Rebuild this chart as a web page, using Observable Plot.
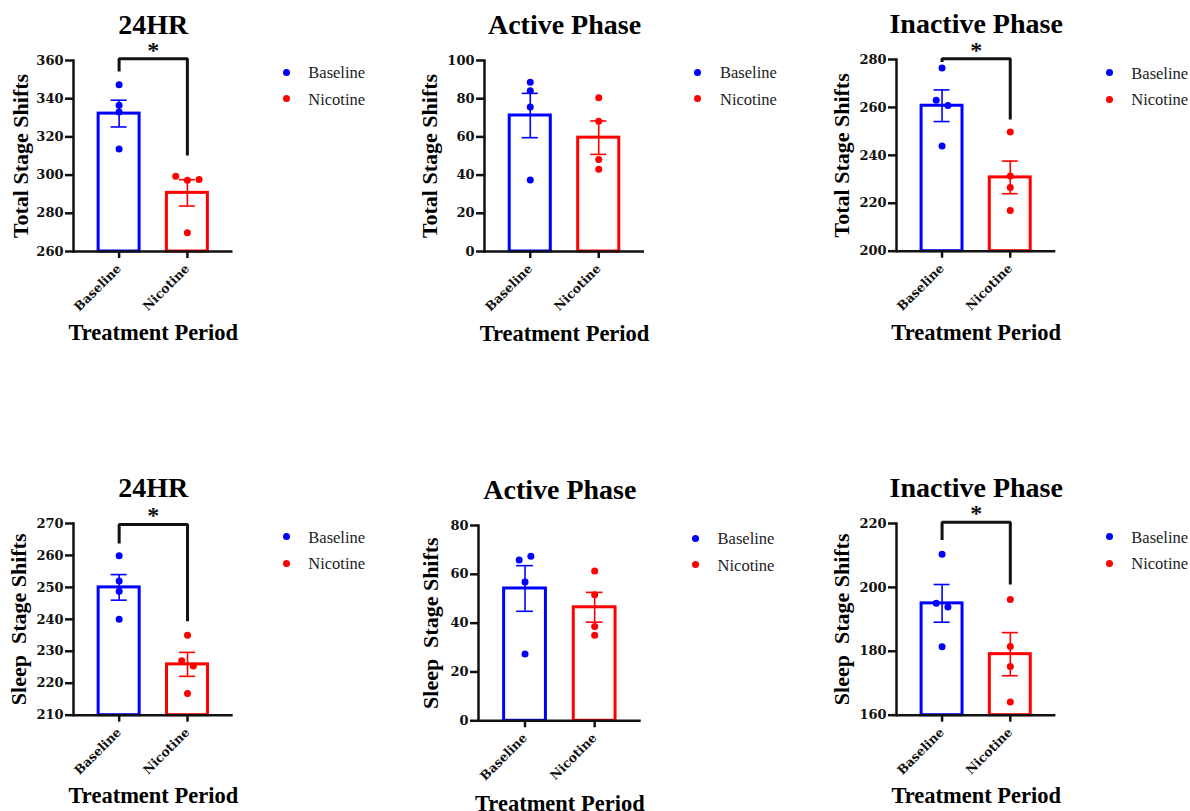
<!DOCTYPE html>
<html>
<head>
<meta charset="utf-8">
<script src="https://cdn.jsdelivr.net/npm/d3@7"></script>
<script src="https://cdn.jsdelivr.net/npm/@observablehq/plot@0.6"></script>
<style>
  html, body { margin: 0; padding: 0; background: #fff; }
  #root { position: relative; width: 1190px; height: 811px; overflow: hidden; font-family: "Liberation Serif", serif; background: #fff; }
  #root svg { position: absolute; overflow: visible; }
  .leg-row { position: absolute; height: 20px; line-height: 20px; font-size: 16.5px; color: #222; white-space: nowrap; }
  .leg-dot { position: absolute; left: 0; top: 6.5px; width: 7px; height: 7px; border-radius: 50%; }
  .leg-text { position: absolute; left: 25.8px; top: 1px; }
</style>
</head>
<body>
<div id="root"></div>
<script>
// ---------------- data ----------------
const groups = ["Baseline", "Nicotine"];
const groupColors = ["#0000ff", "#ff0000"];
const titles = ["24HR", "Active Phase", "Inactive Phase", "24HR", "Active Phase", "Inactive Phase"];
const yLabels = ["Total Stage Shifts", "Total Stage Shifts", "Total Stage Shifts",
                 "Sleep  Stage Shifts", "Sleep  Stage Shifts", "Sleep  Stage Shifts"];
const xLabel = "Treatment Period";

// individual animals
const total24Baseline       = [347.3, 336.6, 333.1, 313.6];
const total24Nicotine       = [299.4, 297.3, 297.7, 269.8];
const totalActiveBaseline   = [88.6, 84.1, 75.6, 37.5];
const totalActiveNicotine   = [80.5, 68.2, 48.2, 43.1];
const totalInactiveBaseline = [276.4, 263.0, 260.8, 243.9];
const totalInactiveNicotine = [249.7, 231.4, 226.6, 217.0];
const sleep24Baseline       = [259.9, 252.0, 248.8, 240.0];
const sleep24Nicotine       = [235.0, 227.0, 225.4, 216.8];
const sleepActiveBaseline   = [65.9, 67.4, 56.9, 27.4];
const sleepActiveNicotine   = [61.4, 51.6, 38.6, 35.0];
const sleepInactiveBaseline = [210.4, 195.0, 193.9, 181.4];
const sleepInactiveNicotine = [196.2, 181.5, 175.2, 164.1];

// bar heights (mean) and error bars (SEM), [Baseline, Nicotine]
const barMeans = [[332.2, 290.7], [71.2, 59.6], [260.7, 230.8], [250.0, 225.9], [54.2, 46.5], [195.0, 179.1]];
const barSems  = [[7.0, 6.9], [11.6, 8.75], [6.6, 6.8], [4.0, 3.75], [9.35, 6.1], [5.9, 6.75]];

// y axes
const yDomains = [[260, 360], [0, 100], [200, 280], [210, 270], [0, 80], [160, 220]];
const yTickValues = [
  [260, 280, 300, 320, 340, 360],
  [0, 20, 40, 60, 80, 100],
  [200, 220, 240, 260, 280],
  [210, 220, 230, 240, 250, 260, 270],
  [0, 20, 40, 60, 80],
  [160, 180, 200, 220]
];

// significance brackets (values in data units); null = none
const bracketTop   = [360.9, null, 280.3, 269.7, null, 220.4];
const bracketLeft  = [354.2, null, 279.0, 263.7, null, 214.8];
const bracketRight = [310.3, null, 255.0, 239.4, null, 200.9];
const sigLabels    = ["*", "", "*", "*", "", "*"];

const panelPoints = [
  [total24Baseline, total24Nicotine],
  [totalActiveBaseline, totalActiveNicotine],
  [totalInactiveBaseline, totalInactiveNicotine],
  [sleep24Baseline, sleep24Nicotine],
  [sleepActiveBaseline, sleepActiveNicotine],
  [sleepInactiveBaseline, sleepInactiveNicotine]
];

// ---------------- layout (page pixels) ----------------
const layout = [
  {L: 72.5,  T: 60,    W: 159.5, H: 191,   titleBase: 33.3,  xLabBase: 339.3, yLabOff: 61.5, legX: 286,   legY: 72.3},
  {L: 484,   T: 60,    W: 160,   H: 191,   titleBase: 33.3,  xLabBase: 340,   yLabOff: 63,   legX: 697.7, legY: 72.3},
  {L: 895.7, T: 59.3,  W: 159.3, H: 191.7, titleBase: 33.3,  xLabBase: 340,   yLabOff: 63,   legX: 1109,  legY: 72.7},
  {L: 73.3,  T: 523.3, W: 159.7, H: 191.7, titleBase: 496.7, xLabBase: 803.3, yLabOff: 63,   legX: 286,   legY: 536.7},
  {L: 478,   T: 525,   W: 162.7, H: 195.3, titleBase: 498.3, xLabBase: 811,   yLabOff: 56.5, legX: 695.3, legY: 538.3},
  {L: 896.3, T: 523.3, W: 159.4, H: 191.7, titleBase: 497.3, xLabBase: 803.3, yLabOff: 63.5, legX: 1109,  legY: 536.7}
];
const M = {left: 80, top: 60, right: 20, bottom: 100};

// spread overlapping points sideways (Prism-like scatter)
function swarmOffsets(vals, pxPerUnit, thresh = 6, step = 11.7) {
  const n = vals.length, cl = new Array(n).fill(-1);
  let c = 0;
  for (let i = 0; i < n; i++) {
    if (cl[i] >= 0) continue;
    cl[i] = c;
    const stack = [i];
    while (stack.length) {
      const a = stack.pop();
      for (let j = 0; j < n; j++) {
        if (cl[j] < 0 && Math.abs(vals[a] - vals[j]) * pxPerUnit < thresh) { cl[j] = c; stack.push(j); }
      }
    }
    c++;
  }
  const offs = new Array(n).fill(0);
  for (let k = 0; k < c; k++) {
    const mem = d3.range(n).filter(i => cl[i] === k);
    mem.forEach((i, m) => offs[i] = (m - (mem.length - 1) / 2) * step);
  }
  return offs;
}

const root = document.getElementById("root");
const tickFont = "DejaVu Serif";

for (let i = 0; i < 6; i++) {
  const lay = layout[i];
  const dom = yDomains[i];
  const pxPerUnit = lay.H / (dom[1] - dom[0]);

  const pts = [];
  groups.forEach((g, gi) => {
    const vals = panelPoints[i][gi];
    const offs = swarmOffsets(vals, pxPerUnit);
    vals.forEach((v, k) => pts.push({group: g, value: v, off: offs[k]}));
  });
  const bars = groups.map((g, gi) => ({group: g, base: dom[0], mean: barMeans[i][gi], sem: barSems[i][gi]}));
  const offsets = [...new Set(pts.map(p => p.off))];

  const marks = [
    Plot.barY(bars, {x: "group", y1: "base", y2: "mean", fill: "white", stroke: "group", strokeWidth: 3})
  ];
  for (const o of offsets) {
    marks.push(Plot.dot(pts.filter(p => p.off === o), {x: "group", y: "value", fill: "group", r: 3.5, dx: o}));
  }
  marks.push(
    Plot.ruleX(bars, {x: "group", y1: d => d.mean - d.sem, y2: d => d.mean + d.sem, stroke: "group", strokeWidth: 1.6}),
    Plot.tickY(bars, {x: "group", y: d => d.mean + d.sem, stroke: "group", strokeWidth: 1.6, insetLeft: 12.5, insetRight: 12.5}),
    Plot.tickY(bars, {x: "group", y: d => d.mean - d.sem, stroke: "group", strokeWidth: 1.6, insetLeft: 12.5, insetRight: 12.5}),
    Plot.ruleY([dom[0]], {stroke: "#111", strokeWidth: 2.5}),
    Plot.frame({anchor: "left", stroke: "#111", strokeWidth: 2.5}),
    Plot.axisY({ticks: yTickValues[i], tickSize: 8, tickPadding: 2, strokeWidth: 2.5, stroke: "#111", label: null,
                fontFamily: tickFont, fontSize: 13, fontWeight: "bold", fill: "#111"}),
    Plot.axisX({tickSize: 7, tickRotate: -45, tickPadding: 8, strokeWidth: 2.5, stroke: "#111", label: null,
                fontFamily: tickFont, fontSize: 12.5, fontWeight: "bold", fill: "#111"}),
    Plot.text([titles[i]], {text: d => d, frameAnchor: "top", dy: lay.titleBase - lay.T, lineAnchor: "bottom",
                fontSize: 28, fontWeight: "bold", fill: "#000"}),
    Plot.text([yLabels[i]], {text: d => d, frameAnchor: "left", textAnchor: "middle", rotate: -90, dx: -lay.yLabOff, lineAnchor: "top",
                fontSize: 22, fontWeight: "bold", fill: "#000"}),
    Plot.text([xLabel], {text: d => d, frameAnchor: "bottom", textAnchor: "middle", dy: lay.xLabBase - (lay.T + lay.H), lineAnchor: "bottom",
                fontSize: 22.5, fontWeight: "bold", fill: "#000"})
  );
  if (bracketTop[i] != null) {
    const br = [
      {group: groups[0], value: bracketLeft[i]},
      {group: groups[0], value: bracketTop[i]},
      {group: groups[1], value: bracketTop[i]},
      {group: groups[1], value: bracketRight[i]}
    ];
    marks.push(
      Plot.line(br, {x: "group", y: "value", stroke: "#111", strokeWidth: 3, strokeLinecap: "butt", strokeLinejoin: "miter", curve: "linear"}),
      Plot.text([{y: bracketTop[i], t: sigLabels[i]}], {y: "y", text: "t", lineAnchor: "bottom", dy: -1,
                  fontSize: 24, fontWeight: "bold", fill: "#111"})
    );
  }

  const svg = Plot.plot({
    width: lay.W + M.left + M.right,
    height: lay.H + M.top + M.bottom,
    marginLeft: M.left, marginRight: M.right, marginTop: M.top, marginBottom: M.bottom,
    style: {fontFamily: "Liberation Serif", fontSize: "15px", fontWeight: "bold", overflow: "visible", background: "transparent"},
    x: {domain: groups, paddingInner: 0.4, paddingOuter: 0.368, round: false, label: null},
    y: {domain: dom, label: null},
    color: {domain: groups, range: groupColors},
    marks
  });
  svg.style.left = (lay.L - M.left) + "px";
  svg.style.top = (lay.T - M.top) + "px";
  root.appendChild(svg);

  // legend
  groups.forEach((g, gi) => {
    const row = document.createElement("div");
    row.className = "leg-row";
    row.style.left = (lay.legX - 3.5) + "px";
    row.style.top = (lay.legY - 10 + gi * 26.3) + "px";
    const dot = document.createElement("span");
    dot.className = "leg-dot";
    dot.style.background = groupColors[gi];
    const txt = document.createElement("span");
    txt.className = "leg-text";
    txt.textContent = g;
    row.appendChild(dot);
    row.appendChild(txt);
    root.appendChild(row);
  });
}
</script>
</body>
</html>
